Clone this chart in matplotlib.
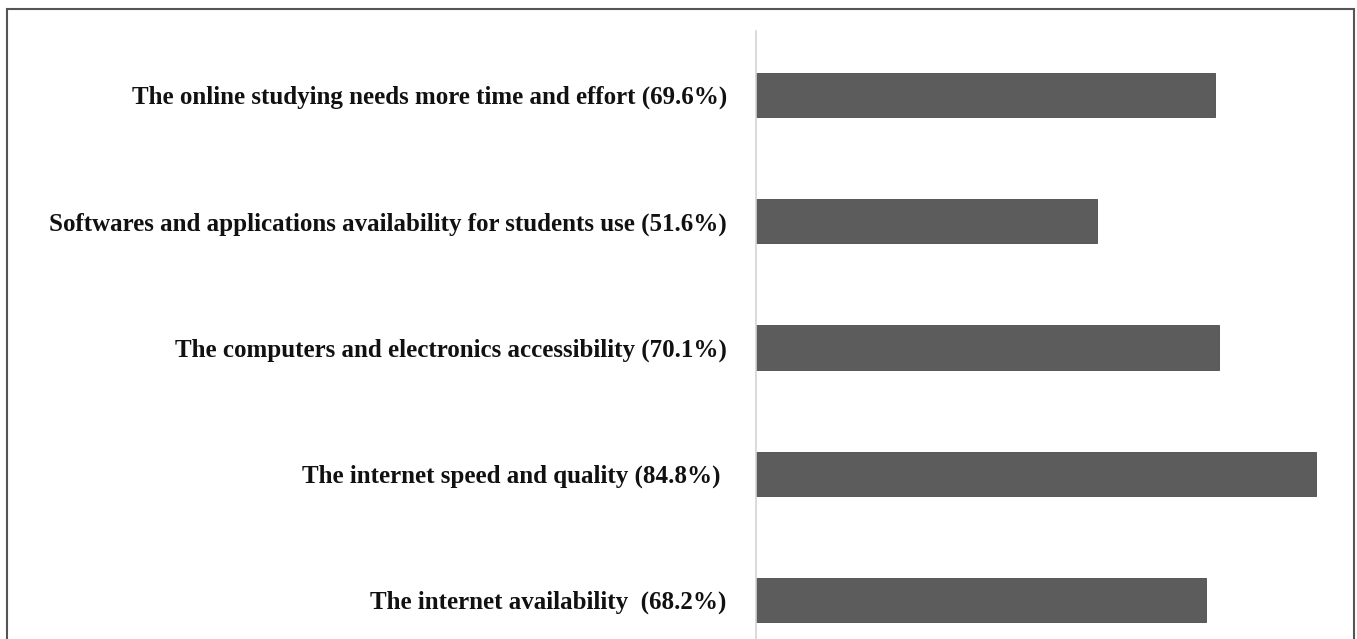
import matplotlib.pyplot as plt
from matplotlib.patches import Rectangle

labels = [
    "The online studying needs more time and effort (69.6%)",
    "Softwares and applications availability for students use (51.6%)",
    "The computers and electronics accessibility (70.1%)",
    "The internet speed and quality (84.8%) ",
    "The internet availability  (68.2%)",
]
values = [69.6, 51.6, 70.1, 84.8, 68.2]

W, H = 1357, 639
fig = plt.figure(figsize=(W / 100, H / 100), dpi=100)

# frame round the whole figure
fig.patches.append(Rectangle((7 / W, -0.05), (1354 - 7) / W, 1.05 - 9 / H,
                             transform=fig.transFigure, fill=False,
                             edgecolor="#555555", linewidth=1.5))

left, top = 756 / W, 1 - 31 / H
ax = fig.add_axes([left, 0, 594 / W, top])
pos = list(range(len(values)))
ax.barh(pos, values, height=0.35, color="#5c5c5c", edgecolor="#4a4a4a", linewidth=0.6)
ax.set_xlim(0, 90)
ax.set_ylim(4.31, -0.507)

for s in ["top", "right", "bottom"]:
    ax.spines[s].set_visible(False)
ax.spines["left"].set_color("#d4d4d4")
ax.spines["left"].set_linewidth(1.2)
ax.set_xticks([])
ax.set_yticks(pos)
ax.set_yticklabels(labels, fontfamily="Liberation Serif", fontweight="bold",
                   fontsize=18.0, color="#111111")
ax.tick_params(axis="y", length=0, pad=21)

fig.savefig("out.png", dpi=100)
